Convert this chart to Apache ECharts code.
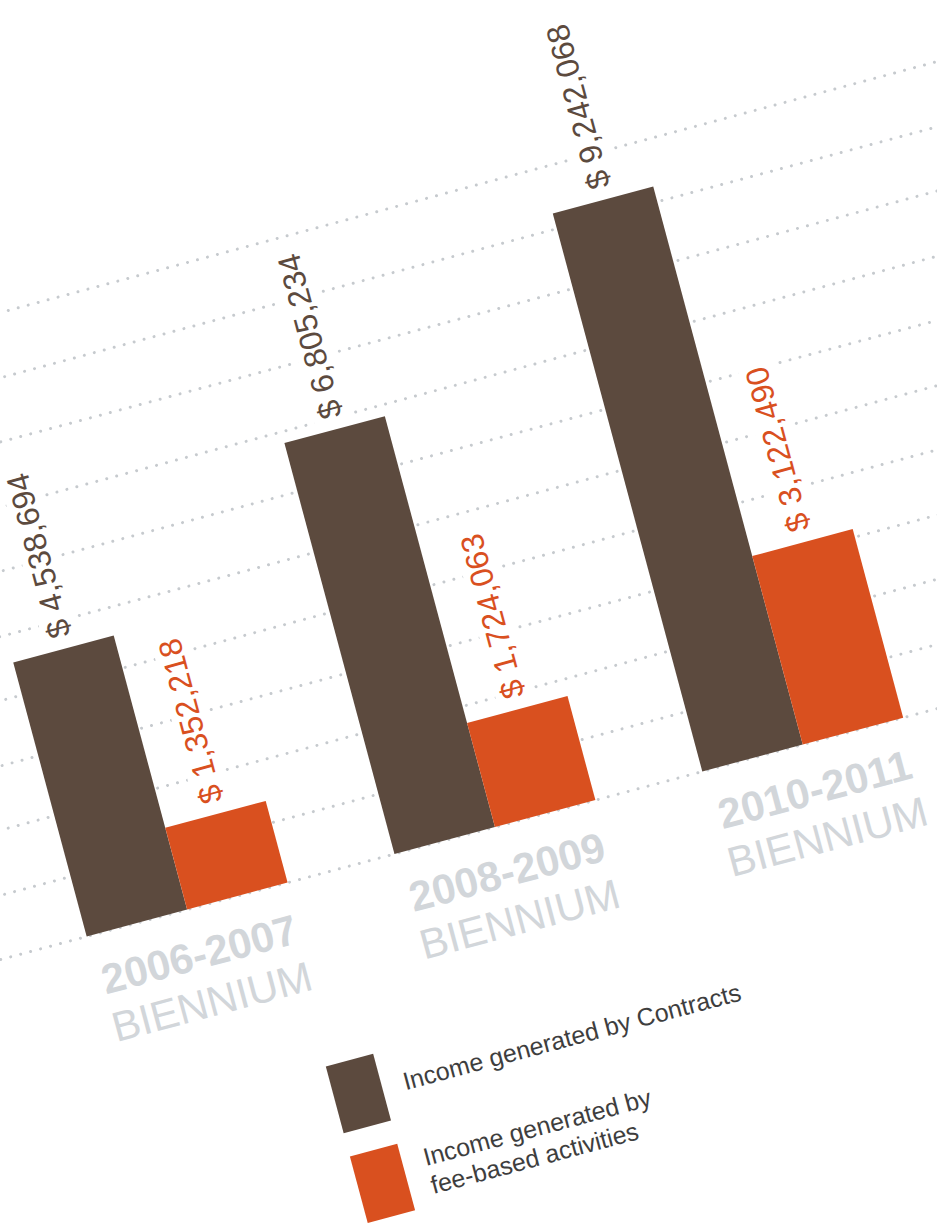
<!DOCTYPE html>
<html>
<head>
<meta charset="utf-8">
<script src="https://cdn.jsdelivr.net/npm/echarts@6/dist/echarts.min.js"></script>
<style>
  html, body { margin: 0; padding: 0; width: 937px; height: 1225px; overflow: hidden; background: #ffffff; }
  /* the whole chart is laid out upright, then tilted 15 degrees */
  #chart { position: absolute; left: -318.75px; top: 85.41px; width: 1250px; height: 1440px;
           transform-origin: 0 0; transform: rotate(-15deg); }
</style>
</head>
<body>
<div id="chart"></div>
<script>
// Income per biennium (US$)
const categories = ['2006-2007', '2008-2009', '2010-2011'];
const periodLabel = 'BIENNIUM';
const contractIncome = [4538694, 6805234, 9242068];
const feeIncome = [1352218, 1724063, 3122490];
const seriesNames = ['Income generated by Contracts', 'Income generated by fee-based activities'];
const legendLabels = ['Income generated by Contracts', 'Income generated by\nfee-based activities'];
const valueMin = 0;
const valueMax = 10000000;
const valueStep = 1000000;

const BROWN = '#5c4a3e';
const ORANGE = '#d9501f';
const GREY_LABEL = '#d2d6da';
const DOT = '#c6cace';
const FONT = '"Liberation Sans", Arial, Helvetica, sans-serif';

const money = v => '$ ' + v.toLocaleString('en-US');

const plotTop = 302.4;
const plotHeight = 625;

function valueLabel(color) {
  return {
    show: true,
    position: 'top',
    rotate: 90,
    align: 'left',
    verticalAlign: 'middle',
    distance: 8,
    formatter: p => money(p.value),
    color: color,
    fontFamily: FONT,
    fontSize: 32,
    backgroundColor: '#ffffff',
    padding: [2, 4, 2, 4]
  };
}

const chart = echarts.init(document.getElementById('chart'), null, { renderer: 'svg' });
chart.setOption({
  backgroundColor: 'transparent',
  animation: false,
  textStyle: { fontFamily: FONT },
  legend: {
    orient: 'vertical',
    left: 368.8,
    top: 1115,
    padding: 0,
    itemWidth: 49,
    itemHeight: 69,
    itemGap: 24,
    icon: 'rect',
    selectedMode: false,
    data: seriesNames,
    formatter: name => legendLabels[seriesNames.indexOf(name)],
    textStyle: { color: '#3e3e3e', fontSize: 25, lineHeight: 29, fontFamily: FONT, padding: [0, 0, 0, 17] }
  },
  grid: [
    // full-width grid carrying the dotted value lines
    { left: 0, width: 1250, top: plotTop, height: plotHeight },
    // grid holding the bars
    { left: 116.15, width: 956, top: plotTop, height: plotHeight }
  ],
  xAxis: [
    { gridIndex: 0, type: 'value', min: 0, max: 1, show: false },
    {
      gridIndex: 1,
      type: 'category',
      data: categories,
      axisLine: { show: false },
      axisTick: { show: false },
      axisLabel: {
        margin: 22,
        formatter: v => '{y|' + v + '}\n{p|' + periodLabel + '}',
        rich: {
          y: { fontFamily: FONT, fontSize: 42, fontWeight: 'bold', color: GREY_LABEL, lineHeight: 49 },
          p: { fontFamily: FONT, fontSize: 42, color: GREY_LABEL, lineHeight: 49 }
        }
      }
    }
  ],
  yAxis: [
    {
      gridIndex: 0,
      type: 'value',
      min: valueMin,
      max: valueMax,
      interval: valueStep,
      axisLine: { show: false },
      axisTick: { show: false },
      axisLabel: { show: false },
      splitLine: {
        show: true,
        showMinLine: true,
        showMaxLine: true,
        lineStyle: { color: DOT, width: 3, type: [0.01, 10.3], cap: 'round' }
      }
    },
    {
      gridIndex: 1,
      type: 'value',
      min: valueMin,
      max: valueMax,
      interval: valueStep,
      show: false,
      splitLine: { show: false }
    }
  ],
  series: [
    {
      name: seriesNames[0],
      type: 'bar',
      xAxisIndex: 1,
      yAxisIndex: 1,
      data: contractIncome,
      barWidth: 104,
      barGap: '0%',
      itemStyle: { color: BROWN },
      label: valueLabel(BROWN)
    },
    {
      name: seriesNames[1],
      type: 'bar',
      xAxisIndex: 1,
      yAxisIndex: 1,
      data: feeIncome,
      barWidth: 104,
      barGap: '0%',
      itemStyle: { color: ORANGE },
      label: valueLabel(ORANGE)
    }
  ]
});
</script>
</body>
</html>
